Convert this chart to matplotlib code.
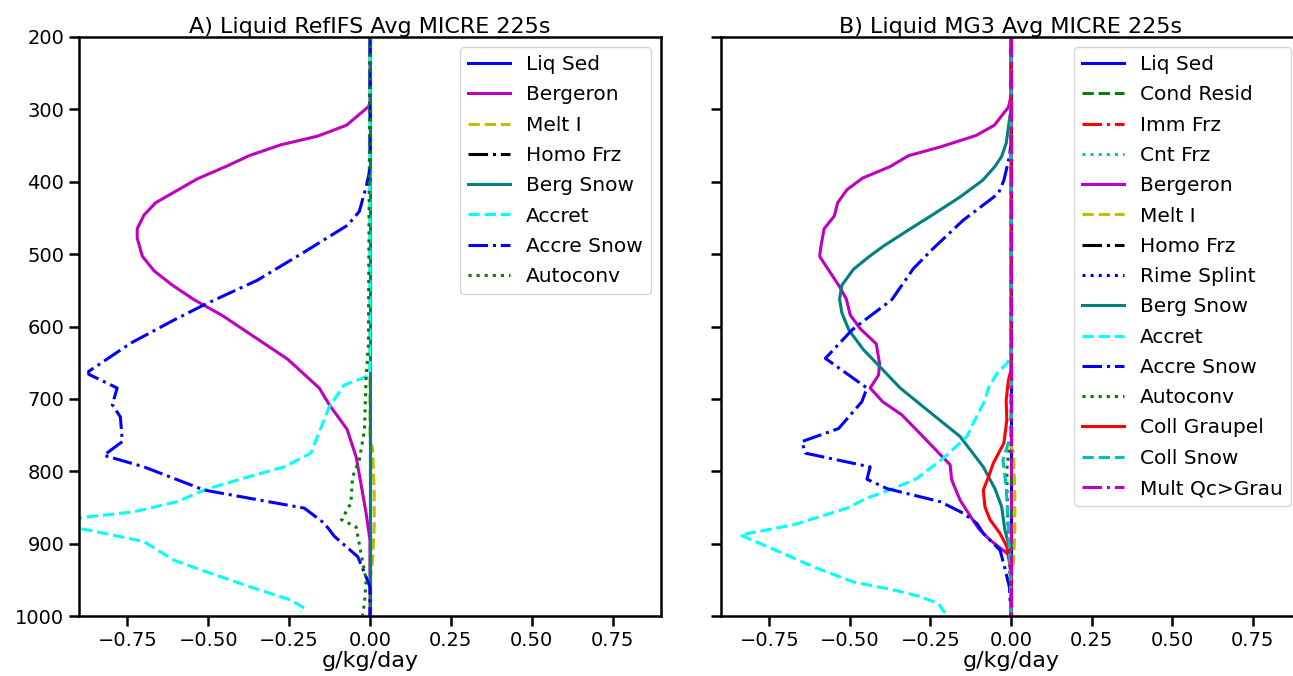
import numpy as np
import matplotlib
matplotlib.use("Agg")
import matplotlib.pyplot as plt

# ---------------- Panel A data (pressure hPa, rate g/kg/day) ----------------
a_liqsed_p = [200, 1000]
a_liqsed_x = [0.0, 0.0]

a_berg_p = [200, 290, 296, 322, 337, 349, 364, 379, 396, 429, 446, 465, 478, 503, 523, 543,
            563, 585, 605, 645, 685, 708, 742, 780, 817, 858, 895, 1000]
a_berg_x = [0.0, 0.0, -0.004, -0.073, -0.162, -0.276, -0.374, -0.446, -0.534, -0.663, -0.699,
            -0.72, -0.72, -0.704, -0.668, -0.611, -0.544, -0.456, -0.389, -0.255, -0.157,
            -0.126, -0.071, -0.043, -0.028, -0.012, 0.0, 0.0]

a_melt_p = [200, 760, 768, 830, 876, 922, 940, 960, 1000]
a_melt_x = [0.0, 0.0, 0.008, 0.013, 0.013, 0.008, 0.003, 0.0, 0.0]

a_homo_p = [200, 1000]
a_homo_x = [0.0, 0.0]

a_bergsnow_p = [200, 1000]
a_bergsnow_x = [0.0, 0.0]

a_accret_p = [200, 660, 665, 669, 681, 711, 775, 794, 812, 826, 842, 856, 866, 876, 897, 923,
              941, 960, 978, 989, 994]
a_accret_x = [0.0, 0.0, -0.002, -0.01, -0.08, -0.126, -0.183, -0.266, -0.41, -0.513, -0.596,
              -0.73, -0.93, -0.93, -0.70, -0.606, -0.493, -0.369, -0.245, -0.203, -0.214]

a_accsnow_p = [200, 379, 391, 407, 441, 460, 497, 536, 570, 591, 623, 662, 666, 685, 708, 725,
               759, 778, 794, 826, 851, 872, 890, 918, 946, 960, 1000]
a_accsnow_x = [0.0, 0.0, -0.004, -0.012, -0.033, -0.069, -0.203, -0.348, -0.513, -0.606, -0.74,
               -0.87, -0.87, -0.782, -0.797, -0.772, -0.766, -0.823, -0.699, -0.513, -0.203,
               -0.141, -0.110, -0.038, -0.012, 0.0, 0.0]

a_auto_p = [200, 625, 669, 743, 784, 808, 844, 867, 877, 913, 950, 982, 999]
a_auto_x = [0.0, -0.005, -0.012, -0.017, -0.033, -0.054, -0.059, -0.088, -0.043, -0.028,
            -0.012, -0.017, -0.023]

# ---------------- Panel B data ----------------
b_zero_p = [200, 1000]
b_zero_x = [0.0, 0.0]

b_berg_p = [200, 282, 297, 322, 336, 352, 364, 379, 395, 411, 429, 447, 465, 487, 503, 522,
            545, 562, 584, 603, 624, 651, 667, 685, 704, 722, 748, 791, 812, 840, 858, 879,
            895, 911, 918, 1000]
b_berg_x = [0.0, 0.0, -0.008, -0.052, -0.108, -0.22, -0.318, -0.375, -0.461, -0.509, -0.538,
            -0.548, -0.58, -0.589, -0.594, -0.566, -0.532, -0.511, -0.499, -0.468, -0.418,
            -0.408, -0.411, -0.437, -0.398, -0.339, -0.282, -0.189, -0.184, -0.158, -0.132,
            -0.101, -0.065, -0.019, 0.0, 0.0]

b_melt_p = [200, 765, 775, 830, 880, 925, 940, 1000]
b_melt_x = [0.0, 0.0, 0.008, 0.012, 0.012, 0.008, 0.0, 0.0]

b_bergsnow_p = [200, 300, 315, 347, 365, 379, 398, 421, 445, 468, 489, 504, 521, 543, 562,
                581, 605, 632, 656, 685, 715, 752, 794, 824, 849, 881, 908, 1000]
b_bergsnow_x = [0.0, 0.0, -0.005, -0.015, -0.029, -0.05, -0.088, -0.158, -0.241, -0.323,
                -0.396, -0.442, -0.489, -0.525, -0.532, -0.525, -0.503, -0.458, -0.406,
                -0.344, -0.261, -0.158, -0.086, -0.05, -0.029, -0.019, -0.003, 0.0]

b_accret_p = [200, 642, 651, 665, 685, 702, 729, 752, 782, 810, 824, 837, 851, 874, 888, 904,
              934, 953, 964, 973, 983, 996]
b_accret_x = [0.0, 0.0, -0.013, -0.044, -0.07, -0.081, -0.112, -0.137, -0.21, -0.292, -0.365,
              -0.447, -0.509, -0.675, -0.84, -0.757, -0.602, -0.489, -0.365, -0.282, -0.225,
              -0.205]

b_accsnow_p = [200, 347, 365, 398, 416, 425, 453, 492, 520, 563, 596, 605, 644, 685, 704, 741,
               759, 775, 794, 811, 824, 842, 858, 872, 886, 909, 934, 960, 1000]
b_accsnow_x = [0.0, 0.0, -0.005, -0.022, -0.039, -0.065, -0.148, -0.241, -0.303, -0.37,
               -0.468, -0.494, -0.576, -0.447, -0.463, -0.535, -0.649, -0.638, -0.437, -0.447,
               -0.385, -0.22, -0.148, -0.106, -0.086, -0.034, -0.019, -0.005, 0.0]

b_auto_p = [200, 760, 766, 798, 830, 870, 910, 950, 1000]
b_auto_x = [0.0, 0.0, -0.005, -0.013, -0.012, -0.01, -0.006, -0.003, 0.0]

b_collgr_p = [200, 660, 674, 702, 729, 761, 789, 808, 826, 849, 867, 886, 904, 940, 1000]
b_collgr_x = [0.0, 0.0, -0.008, -0.015, -0.013, -0.022, -0.055, -0.07, -0.086, -0.081,
              -0.065, -0.034, -0.013, 0.0, 0.0]

b_collsnow_p = [200, 750, 784, 821, 860, 900, 940, 1000]
b_collsnow_x = [0.0, 0.0, -0.025, -0.015, -0.01, -0.006, -0.002, 0.0]

title_a = "A) Liquid RefIFS Avg MICRE 225s"
title_b = "B) Liquid MG3 Avg MICRE 225s"
xlabel = "g/kg/day"
yticks = [200, 300, 400, 500, 600, 700, 800, 900, 1000]
xticks = [-0.75, -0.5, -0.25, 0.0, 0.25, 0.5, 0.75]

AQUA = "#00ffff"
TEAL = (0.0, 0.5, 0.5)

plt.rcParams['font.family'] = ['DejaVu Sans']
LW = 2.2

fig = plt.figure(figsize=(12.93, 6.76), dpi=100)
W, H = 1293.0, 676.0
axA = fig.add_axes([79 / W, (H - 616) / H, 582 / W, 579 / H])
axB = fig.add_axes([721 / W, (H - 616) / H, 580 / W, 579 / H])

seriesA = [
    ("Liq Sed", a_liqsed_x, a_liqsed_p, 'b', '-'),
    ("Bergeron", a_berg_x, a_berg_p, 'm', '-'),
    ("Melt I", a_melt_x, a_melt_p, 'y', '--'),
    ("Homo Frz", a_homo_x, a_homo_p, 'k', '-.'),
    ("Berg Snow", a_bergsnow_x, a_bergsnow_p, TEAL, '-'),
    ("Accret", a_accret_x, a_accret_p, AQUA, '--'),
    ("Accre Snow", a_accsnow_x, a_accsnow_p, 'b', '-.'),
    ("Autoconv", a_auto_x, a_auto_p, 'g', ':'),
]

seriesB = [
    ("Liq Sed", b_zero_x, b_zero_p, 'b', '-'),
    ("Cond Resid", b_zero_x, b_zero_p, 'g', '--'),
    ("Imm Frz", b_zero_x, b_zero_p, 'r', '-.'),
    ("Cnt Frz", b_zero_x, b_zero_p, 'c', ':'),
    ("Bergeron", b_berg_x, b_berg_p, 'm', '-'),
    ("Melt I", b_melt_x, b_melt_p, 'y', '--'),
    ("Homo Frz", b_zero_x, b_zero_p, 'k', '-.'),
    ("Rime Splint", b_zero_x, b_zero_p, 'b', ':'),
    ("Berg Snow", b_bergsnow_x, b_bergsnow_p, TEAL, '-'),
    ("Accret", b_accret_x, b_accret_p, AQUA, '--'),
    ("Accre Snow", b_accsnow_x, b_accsnow_p, 'b', '-.'),
    ("Autoconv", b_auto_x, b_auto_p, 'g', ':'),
    ("Coll Graupel", b_collgr_x, b_collgr_p, 'r', '-'),
    ("Coll Snow", b_collsnow_x, b_collsnow_p, 'c', '--'),
    ("Mult Qc>Grau", b_zero_x, b_zero_p, 'm', '-.'),
]

for ax, series, title in [(axA, seriesA, title_a), (axB, seriesB, title_b)]:
    for lab, x, p, c, ls in series:
        ax.plot(x, p, color=c, ls=ls, lw=LW, label=lab)
    ax.set_xlim(-0.9, 0.9)
    ax.set_ylim(1000, 200)
    ax.set_yticks(yticks)
    ax.set_xticks(xticks)
    ax.set_title(title, fontsize=16, pad=3)
    ax.set_xlabel(xlabel, fontsize=16, labelpad=1)
    ax.tick_params(axis='both', labelsize=14, length=7.5, width=1.8, direction='out', pad=3)
    for s in ax.spines.values():
        s.set_linewidth(1.8)
    ax.legend(loc='upper right', fontsize=14.5, handlelength=2.1, borderaxespad=0.5,
              labelspacing=0.56)

axB.set_yticklabels([])

fig.savefig("out.png", dpi=100)
